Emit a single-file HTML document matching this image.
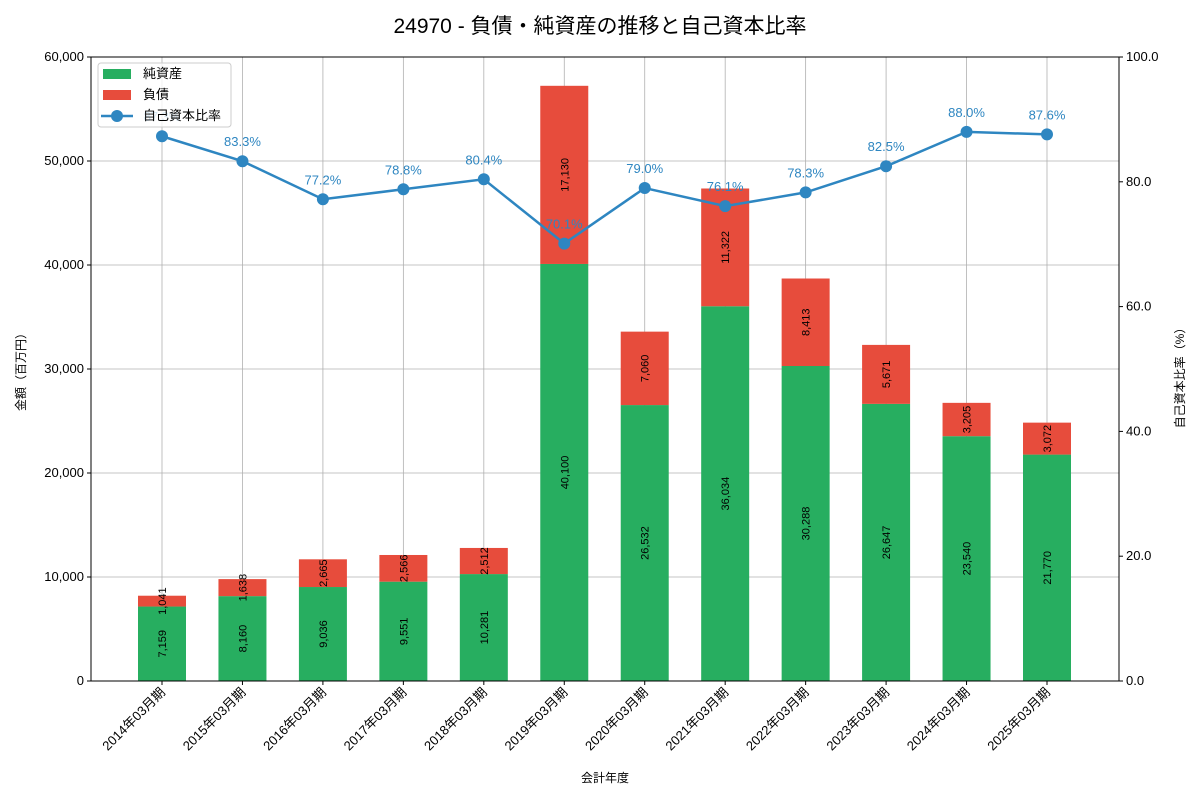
<!DOCTYPE html>
<html><head><meta charset="utf-8">
<style>
body{margin:0;background:#fff;}
svg{display:block;font-family:"Liberation Sans","Noto Sans CJK JP",sans-serif;}
</style></head>
<body>
<svg id="chart" width="1200" height="800" viewBox="0 0 1200 800" xmlns="http://www.w3.org/2000/svg">
<text x="600" y="33" font-size="21" text-anchor="middle" fill="#000">24970 - 負債・純資産の推移と自己資本比率</text>
<g id="grid"></g><g id="bars"></g><g id="line"></g><g id="axes"></g>
<text x="605" y="782" font-size="12" text-anchor="middle">会計年度</text>
<text transform="translate(25,369) rotate(-90)" font-size="12" text-anchor="middle">金額（百万円）</text>
<text transform="translate(1184,375) rotate(-90)" font-size="12" text-anchor="middle">自己資本比率（%）</text>
<g id="legend"></g>
</svg>
<script>
const categories=["2014年03月期","2015年03月期","2016年03月期","2017年03月期","2018年03月期","2019年03月期","2020年03月期","2021年03月期","2022年03月期","2023年03月期","2024年03月期","2025年03月期"];
const netAssets=[7159,8160,9036,9551,10281,40100,26532,36034,30288,26647,23540,21770];
const liabilities=[1041,1638,2665,2566,2512,17130,7060,11322,8413,5671,3205,3072];
const equityRatio=[87.3,83.3,77.2,78.8,80.4,70.1,79.0,76.1,78.3,82.5,88.0,87.6];
const leftTicks=[0,10000,20000,30000,40000,50000,60000];
const rightTicks=[0,20,40,60,80,100];

const NS="http://www.w3.org/2000/svg";
const L=91,R=1119,T=57,B=681;
const yL=v=>B-(v/60000)*(B-T);
const yR=v=>B-(v/100)*(B-T);
const x0=162,x1=1047;
const step=(x1-x0)/(categories.length-1);
const xC=i=>x0+step*i;
const bw=48;
function mk(tag,attrs,parent,text){const e=document.createElementNS(NS,tag);for(const k in attrs)e.setAttribute(k,attrs[k]);if(text!==undefined)e.textContent=text;parent.appendChild(e);return e;}
const fmt=n=>n.toLocaleString("en-US");
const grid=document.getElementById("grid"),bars=document.getElementById("bars"),line=document.getElementById("line"),axes=document.getElementById("axes"),leg=document.getElementById("legend");

leftTicks.forEach(v=>{
  const g=mk("line",{x1:L,x2:R,y1:yL(v),y2:yL(v),stroke:"#b0b0b0","stroke-width":0.8},grid);
  
  
  mk("line",{x1:L-4,x2:L,y1:yL(v),y2:yL(v),stroke:"#000"},axes);
  const t=mk("text",{x:L-7,y:yL(v)+4,"font-size":13,"text-anchor":"end"},axes,fmt(v));
  
  
});
rightTicks.forEach(v=>{
  mk("line",{x1:R,x2:R+4,y1:yR(v),y2:yR(v),stroke:"#000"},axes);
  const t=mk("text",{x:R+7,y:yR(v)+4,"font-size":13},axes,v.toFixed(1));
  
  
});
categories.forEach((c,i)=>{
  const x=xC(i);
  const g=mk("line",{x1:x,x2:x,y1:T,y2:B,stroke:"#b0b0b0","stroke-width":0.8},grid);
  
  
  const n=netAssets[i],l=liabilities[i];
  const r1=mk("rect",{x:x-bw/2,y:yL(n),width:bw,height:yL(0)-yL(n),fill:"#27ae60"},bars);
  
  
  const r2=mk("rect",{x:x-bw/2,y:yL(n+l),width:bw,height:yL(n)-yL(n+l),fill:"#e74c3c"},bars);
  
  
  const m1=(yL(0)+yL(n))/2,m2=(yL(n)+yL(n+l))/2;
  const t1=mk("text",{transform:`translate(${x+4},${m1}) rotate(-90)`,"font-size":11,"text-anchor":"middle"},bars,fmt(n));
  
  
  const t2=mk("text",{transform:`translate(${x+4},${m2}) rotate(-90)`,"font-size":11,"text-anchor":"middle"},bars,fmt(l));
  
  
  mk("line",{x1:x,x2:x,y1:B,y2:B+4,stroke:"#000"},axes);
  const tl=mk("text",{transform:`translate(${x+4},${B+12}) rotate(-45)`,"font-size":13,"text-anchor":"end"},axes,c);
  
  
});
const pts=equityRatio.map((v,i)=>xC(i)+","+yR(v)).join(" ");
const pl=mk("polyline",{points:pts,fill:"none",stroke:"#2e86c1","stroke-width":2.5},line);


equityRatio.forEach((v,i)=>{
  const c=mk("circle",{cx:xC(i),cy:yR(v),r:6,fill:"#2e86c1"},line);
  
  
  const t=mk("text",{x:xC(i),y:yR(v)-15,"font-size":13,"text-anchor":"middle",fill:"#2e86c1"},line,v.toFixed(1)+"%");
  
  
});
mk("rect",{x:L,y:T,width:R-L,height:B-T,fill:"none",stroke:"#000","stroke-width":1},axes);
// legend
mk("rect",{x:98,y:63,width:133,height:64,rx:3,fill:"#fff","fill-opacity":0.8,stroke:"#ccc"},leg);
mk("rect",{x:103,y:69,width:28,height:10,fill:"#27ae60"},leg);
const e1=mk("text",{x:143,y:78,"font-size":13},leg,"純資産");


mk("rect",{x:103,y:90,width:28,height:10,fill:"#e74c3c"},leg);
const e2=mk("text",{x:143,y:99,"font-size":13},leg,"負債");


mk("line",{x1:101,x2:133,y1:116,y2:116,stroke:"#2e86c1","stroke-width":2.5},leg);
mk("circle",{cx:117,cy:116,r:6,fill:"#2e86c1"},leg);
const e3=mk("text",{x:143,y:120,"font-size":13},leg,"自己資本比率");


</script>
</body></html>
